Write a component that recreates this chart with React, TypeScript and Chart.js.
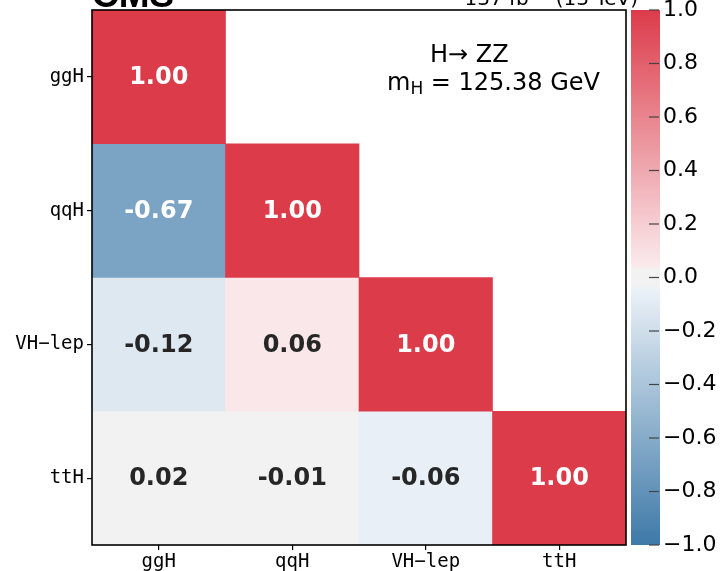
import React, { useEffect, useRef } from 'react';
import { Chart, registerables } from 'chart.js';

Chart.register(...registerables);

// ---- data ----
const parameters = ['ggH', 'qqH', 'VH\u2212lep', 'ttH'];
const rowGgH = [1.0];
const rowQqH = [-0.67, 1.0];
const rowVHlep = [-0.12, 0.06, 1.0];
const rowTtH = [0.02, -0.01, -0.06, 1.0];
const colorbarTicks = [-1.0, -0.8, -0.6, -0.4, -0.2, 0.0, 0.2, 0.4, 0.6, 0.8, 1.0];
const rows = [rowGgH, rowQqH, rowVHlep, rowTtH];

const W = 723;
const H = 571;

function mix(a: number[], b: number[], t: number) {
  return a.map((v, k) => Math.round(v + (b[k] - v) * t));
}

function cmap(v: number): string {
  const a = Math.abs(v);
  if (a < 0.04) return 'rgb(242,242,242)';
  const t = Math.min(1, (a - 0.04) / 0.96);
  const c =
    v > 0
      ? mix([250, 235, 237], [220, 59, 74], t)
      : mix([236, 242, 248], [62, 121, 168], t);
  return `rgb(${c[0]},${c[1]},${c[2]})`;
}

const fmtTick = (v: number) => {
  const s = Math.abs(v).toFixed(1);
  return v < -1e-9 ? '\u2212' + s : s;
};

const overlayPlugin = {
  id: 'overlay',
  afterDatasetsDraw(chart: any) {
    const ctx = chart.ctx as CanvasRenderingContext2D;
    const area = chart.chartArea;
    ctx.save();
    // cell values
    ctx.textAlign = 'center';
    ctx.textBaseline = 'middle';
    ctx.font = 'bold 24px "DejaVu Sans"';
    rows.forEach((vals, i) => {
      const meta = chart.getDatasetMeta(i);
      vals.forEach((v, j) => {
        const el: any = meta.data[j];
        if (!el) return;
        const cx = el.x;
        const cy = (el.y + el.base) / 2;
        ctx.fillStyle = Math.abs(v) > 0.5 ? '#ffffff' : '#262626';
        ctx.fillText(v.toFixed(2), cx, cy + 1);
      });
    });
    // frame
    ctx.strokeStyle = '#000';
    ctx.lineWidth = 1.6;
    ctx.strokeRect(area.left, area.top, area.right - area.left, area.bottom - area.top);

    // colorbar
    const cb = chart.scales.cb;
    const yTop = cb.getPixelForValue(1);
    const yBot = cb.getPixelForValue(-1);
    const x0 = area.right + 5;
    const wBar = 29;
    const grad = ctx.createLinearGradient(0, yBot, 0, yTop);
    const N = 200;
    for (let k = 0; k <= N; k++) {
      const v = -1 + (2 * k) / N;
      grad.addColorStop(k / N, cmap(v));
    }
    ctx.fillStyle = grad;
    ctx.fillRect(x0, yTop, wBar, yBot - yTop);
    ctx.strokeStyle = '#444';
    ctx.lineWidth = 1.2;
    colorbarTicks.forEach((t) => {
      const y = cb.getPixelForValue(t);
      ctx.beginPath();
      ctx.moveTo(x0 + 18, y);
      ctx.lineTo(x0 + 28, y);
      ctx.stroke();
    });

    // CMS label
    ctx.textAlign = 'left';
    ctx.textBaseline = 'alphabetic';
    ctx.fillStyle = '#000';
    ctx.font = 'bold 37px "Liberation Sans"';
    ctx.fillText('CMS', area.left, 7);

    // luminosity label (right aligned)
    const big = '20px "DejaVu Sans"';
    const small = '14px "DejaVu Sans"';
    ctx.font = big;
    const p1 = '137 fb';
    const p3 = ' (13 TeV)';
    const w1 = ctx.measureText(p1).width;
    const w3 = ctx.measureText(p3).width;
    ctx.font = small;
    const p2 = '\u22121';
    const w2 = ctx.measureText(p2).width;
    const xEnd = area.right + 12;
    let xs = xEnd - (w1 + w2 + w3);
    ctx.font = big;
    ctx.fillText(p1, xs, 5);
    xs += w1;
    ctx.font = small;
    ctx.fillText(p2, xs, -3);
    xs += w2;
    ctx.font = big;
    ctx.fillText(p3, xs, 5);

    // process annotation
    ctx.font = '24px "DejaVu Sans"';
    ctx.fillText('H\u2192 ZZ', area.left + 338, area.top + 52);
    let mx = area.left + 295;
    const my = area.top + 80;
    ctx.fillText('m', mx, my);
    mx += ctx.measureText('m').width;
    ctx.font = '17px "DejaVu Sans"';
    ctx.fillText('H', mx, my + 4);
    mx += ctx.measureText('H').width;
    ctx.font = '24px "DejaVu Sans"';
    ctx.fillText(' = 125.38 GeV', mx, my);
    ctx.restore();
  },
};

export default function App() {
  const ref = useRef<HTMLCanvasElement>(null);
  useEffect(() => {
    if (!ref.current) return;
    const datasets = rows.map((vals, i) => ({
      data: parameters.map((_, j) => (j < vals.length ? [3 - i, 4 - i] : null)),
      backgroundColor: parameters.map((_, j) => (j < vals.length ? cmap(vals[j]) : 'rgba(0,0,0,0)')),
      grouped: false,
      barPercentage: 1,
      categoryPercentage: 1,
      borderWidth: 0,
      borderSkipped: false,
      yAxisID: 'y',
    }));
    const tickGrid = {
      drawOnChartArea: false,
      drawTicks: true,
      tickLength: 5,
      color: '#000',
      lineWidth: 1.2,
      offset: false,
    };
    const chart = new Chart(ref.current, {
      type: 'bar',
      data: { labels: parameters, datasets: datasets as any },
      plugins: [overlayPlugin],
      options: {
        animation: false,
        responsive: false,
        maintainAspectRatio: false,
        layout: { padding: { top: 10, left: 0, right: 0, bottom: 0 } },
        plugins: { legend: { display: false }, tooltip: { enabled: false } },
        scales: {
          x: {
            type: 'category',
            offset: true,
            grid: tickGrid as any,
            border: { display: false },
            ticks: {
              font: { family: 'DejaVu Sans Mono', size: 19 },
              color: '#000',
              padding: 1,
              maxRotation: 0,
              autoSkip: false,
            },
            afterFit: (s: any) => {
              s.height = 26;
              s.paddingLeft = 0;
              s.paddingRight = 0;
            },
          },
          y: {
            type: 'linear',
            min: 0,
            max: 4,
            grid: tickGrid as any,
            border: { display: false },
            afterBuildTicks: (s: any) => {
              s.ticks = [0.5, 1.5, 2.5, 3.5].map((v) => ({ value: v }));
            },
            ticks: {
              font: { family: 'DejaVu Sans Mono', size: 19 },
              color: '#000',
              padding: 3,
              callback: (v: any) => parameters[3 - Math.floor(Number(v))],
            },
            afterFit: (s: any) => {
              s.width = 92;
              s.paddingTop = 0;
              s.paddingBottom = 0;
            },
          },
          cb: {
            type: 'linear',
            position: 'right',
            min: -1,
            max: 1,
            grid: { display: false, drawTicks: false },
            border: { display: false },
            afterBuildTicks: (s: any) => {
              s.ticks = colorbarTicks.map((v) => ({ value: v }));
            },
            ticks: {
              font: { family: 'DejaVu Sans', size: 22 },
              color: '#000',
              padding: 37,
              callback: (v: any) => fmtTick(Number(v)),
            },
            afterFit: (s: any) => {
              s.width = 97;
              s.paddingTop = 0;
              s.paddingBottom = 0;
            },
          },
        },
      },
    });
    return () => chart.destroy();
  }, []);
  return (
    <div style={{ position: 'absolute', left: 0, top: 0, width: W, height: H, background: '#fff' }}>
      <canvas ref={ref} width={W} height={H} style={{ display: 'block', width: W, height: H }} />
    </div>
  );
}
